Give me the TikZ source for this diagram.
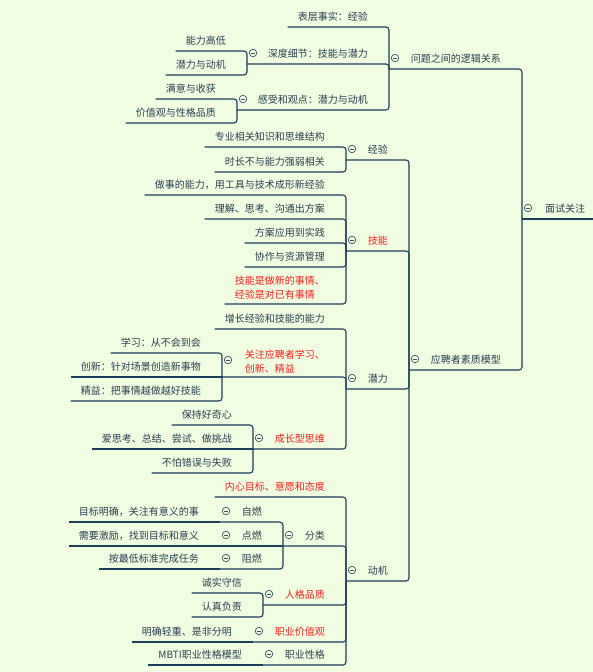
\documentclass[tikz,border=0pt]{standalone}
\usepackage{fontspec}
\newfontfamily\cjk{Noto Sans CJK SC}
\usetikzlibrary{calc}
\definecolor{bg}{RGB}{240,253,224}
\definecolor{linecol}{RGB}{28,62,92}
\definecolor{textcol}{RGB}{42,62,82}
\definecolor{redcol}{RGB}{250,30,30}
\definecolor{foldcol}{RGB}{60,80,105}
% [style] name, right x, underline y, text
\newcommand\leafnode[5][]{%
  \node[one,#1,anchor=south east] (#2) at (#3-21,#4) {#5};
  \coordinate (#2-w) at ([xshift=-10pt]#2.west);
  \coordinate (#2-r) at (#3,#4);
  \coordinate (#2-l) at (#2-w |- #2-r);
}
% [style] name, right x, underline y, bracket x, text
\newcommand\branchnode[6][]{%
  \node[one,#1,anchor=south east] (#2) at (#3-21,#4) {#6};
  \coordinate (#2-l) at (#5,#4);
  \node[fold] (#2-f) at (#5+6,#4-11) {};
}
\newcommand\link[2]{\draw[conn] (#1-l) -- (#1-l -| #2-l) -- (#2-l);}
\newcommand\linkflat[2]{\draw[conn] (#1-l) -- (#2-l);}
\begin{document}
\begin{tikzpicture}[x=1pt,y=-1pt,
  txt/.style={font=\cjk\fontsize{10pt}{14pt}\selectfont,text=textcol,inner sep=0pt},
  one/.style={txt,text depth=6.5pt},
  two/.style={txt,align=left},
  hot/.style={text=redcol},
  conn/.style={draw=linecol,line width=1.1pt,rounded corners=3pt},
  fold/.style={circle,draw=foldcol,line width=0.7pt,fill=bg,minimum size=7.5pt,inner sep=0pt,
    path picture={\draw[foldcol,line width=0.7pt]([xshift=-2.2pt]path picture bounding box.center)--([xshift=2.2pt]path picture bounding box.center);}}]
\fill[bg] (0,0) rectangle (593,672);
\useasboundingbox (0,0) rectangle (593,672);

% root
\coordinate (root-l) at (522,219);
\coordinate (root-r) at (593,219);
\node[one,anchor=south west] (root) at (545,219) {面试关注};
\node[fold] (root-f) at (528,208) {};

% level 1
\branchnode{q}{522}{69}{389}{问题之间的逻辑关系}
\branchnode{m}{522}{370}{409}{应聘者素质模型}

% under q
\leafnode{q1}{389}{27}{表层事实：经验}
\branchnode{q2}{389}{64}{247}{深度细节：技能与潜力}
\branchnode{q3}{389}{110}{237}{感受和观点：潜力与动机}
\leafnode{q21}{247}{51}{能力高低}
\leafnode{q22}{247}{75}{潜力与动机}
\leafnode{q31}{237}{99}{满意与收获}
\leafnode{q32}{237}{123}{价值观与性格品质}

% under m
\branchnode{e}{409}{160}{346}{经验}
\branchnode[hot]{s}{409}{251}{346}{技能}
\branchnode{p}{409}{389}{346}{潜力}
\branchnode{d}{409}{581}{346}{动机}

\leafnode{e1}{346}{147}{专业相关知识和思维结构}
\leafnode{e2}{346}{172}{时长不与能力强弱相关}

\leafnode{s1}{346}{195}{做事的能力，用工具与技术成形新经验}
\leafnode{s2}{346}{219}{理解、思考、沟通出方案}
\leafnode{s3}{346}{243}{方案应用到实践}
\leafnode{s4}{346}{267}{协作与资源管理}
\node[two,hot,anchor=south east] (sk5) at (325,300) {技能是做新的事情、\\经验是对已有事情};
\coordinate (sk5-w) at ([xshift=-10pt]sk5.west);
\coordinate (sk5-r) at (346,304);
\coordinate (sk5-l) at (sk5-w |- sk5-r);

\leafnode{p1}{346}{329}{增长经验和技能的能力}
\node[two,hot,anchor=south east] (gz) at (325,373) {关注应聘者学习、\\创新、精益};
\coordinate (gz-l) at (222,377);
\node[fold] (gz-f) at (228,360) {};
\branchnode[hot]{g}{346}{449}{253}{成长型思维}
\leafnode{z1}{222}{353}{学习：从不会到会}
\leafnode{z2}{222}{377}{创新：针对场景创造新事物}
\leafnode{z3}{222}{401}{精益：把事情越做越好技能}
\leafnode{g1}{253}{425}{保持好奇心}
\leafnode{g2}{253}{449}{爱思考、总结、尝试、做挑战}
\leafnode{g3}{253}{473}{不怕错误与失败}

\leafnode[hot]{d1}{346}{497}{内心目标、意愿和态度}
\branchnode{c}{346}{546}{283}{分类}
\branchnode[hot]{h}{346}{605}{263}{人格品质}
\branchnode[hot]{v}{346}{642}{253}{职业价值观}
\branchnode{t}{346}{665}{263}{职业性格}
\branchnode{c1}{283}{522}{220}{自燃}
\branchnode{c2}{283}{546}{220}{点燃}
\branchnode{c3}{283}{569}{220}{阻燃}
\leafnode{c11}{220}{522}{目标明确，关注有意义的事}
\leafnode{c21}{220}{546}{需要激励，找到目标和意义}
\leafnode{c31}{220}{569}{按最低标准完成任务}
\leafnode{h1}{263}{593}{诚实守信}
\leafnode{h2}{263}{617}{认真负责}
\leafnode{v1}{253}{642}{明确轻重、是非分明}
\leafnode{t1}{263}{665}{MBTI职业性格模型}

% connectors
\draw[conn] (root-l) -- (root-r);
\link{q}{root} \link{m}{root}
\link{q1}{q} \link{q2}{q} \link{q3}{q}
\link{q21}{q2} \link{q22}{q2} \link{q31}{q3} \link{q32}{q3}
\link{e}{m} \link{s}{m} \link{p}{m} \link{d}{m}
\link{e1}{e} \link{e2}{e}
\link{s1}{s} \link{s2}{s} \link{s3}{s} \link{s4}{s} \link{sk5}{s}
\link{p1}{p} \link{gz}{p} \link{g}{p}
\link{z1}{gz} \linkflat{z2}{gz} \link{z3}{gz}
\link{g1}{g} \linkflat{g2}{g} \link{g3}{g}
\link{d1}{d} \link{c}{d} \link{h}{d} \link{v}{d} \link{t}{d}
\link{c1}{c} \linkflat{c2}{c} \link{c3}{c}
\linkflat{c11}{c1} \linkflat{c21}{c2} \linkflat{c31}{c3}
\link{h1}{h} \link{h2}{h}
\linkflat{v1}{v} \linkflat{t1}{t}
\end{tikzpicture}
\end{document}
